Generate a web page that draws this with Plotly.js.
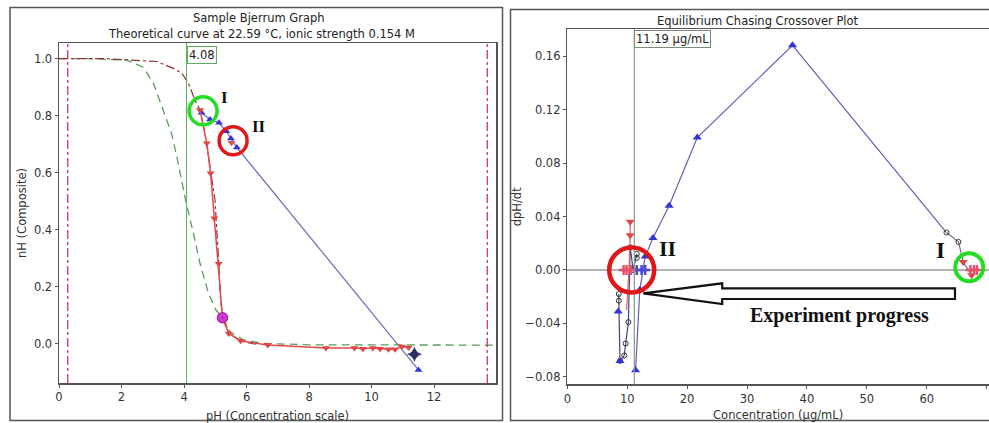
<!DOCTYPE html>
<html><head><meta charset="utf-8">
<script src="https://cdn.plot.ly/plotly-3.0.1.min.js"></script>
<style>html,body{margin:0;padding:0;background:#fff}#plot{width:989px;height:423px}</style>
</head><body><div id="plot"></div>
<script>
// ---------- LEFT PANEL DATA (Bjerrum) ----------
const leftTitle = "Sample Bjerrum Graph";
const leftSubtitle = "Theoretical curve at 22.59 °C, ionic strength 0.154 M";
const leftXTitle = "pH (Concentration scale)";
const leftYTitle = "nH (Composite)";
const crossoverPH = 4.08;
const limitPH = [0.28, 13.7];

const theoGreenPH = [0.0, 1.0, 2.16, 2.7, 3.02, 3.34, 3.6, 3.77, 3.93, 4.05, 4.3, 4.51, 4.78, 5.02, 5.24, 5.47, 5.9, 6.54, 8.0, 10.0, 12.0, 14.0];
const theoGreenNH = [1.0, 1.0, 0.995, 0.97, 0.914, 0.82, 0.738, 0.656, 0.563, 0.504, 0.387, 0.282, 0.177, 0.118, 0.091, 0.042, 0.013, 0.001, -0.004, -0.005, -0.005, -0.005];

const theoRedPH = [0.0, 1.5, 3.13, 3.66, 3.93, 4.14, 4.35, 4.51, 4.67, 4.83, 4.99, 5.1, 5.17, 5.24, 5.45, 5.85, 6.3];
const theoRedNH = [1.0, 1.0, 0.99, 0.966, 0.949, 0.914, 0.855, 0.82, 0.738, 0.621, 0.504, 0.305, 0.153, 0.091, 0.035, 0.008, -0.002];

const redPH = [4.51, 4.73, 4.85, 4.97, 5.11, 5.43, 5.81, 6.68, 8.54, 9.45, 9.72, 10.04, 10.27, 10.54, 10.75, 10.97, 11.18];
const redNH = [0.82, 0.703, 0.598, 0.44, 0.28, 0.036, 0.01, -0.005, -0.015, -0.015, -0.018, -0.015, -0.018, -0.02, -0.02, -0.01, -0.013];
const redExtraPH = [5.52];
const redExtraNH = [0.705];

const magentaPH = [5.23];
const magentaNH = [0.091];

const blueLeftPH = [4.56, 4.83, 5.12, 5.35, 5.5, 5.69, 11.5];
const blueLeftNH = [0.81, 0.787, 0.775, 0.745, 0.72, 0.688, -0.092];

const starPH = [11.37];
const starNH = [-0.037];

// ---------- RIGHT PANEL DATA (Crossover) ----------
const rightTitle = "Equilibrium Chasing Crossover Plot";
const rightXTitle = "Concentration (µg/mL)";
const rightYTitle = "dpH/dt";
const crossoverConc = 11.19;
const crossoverLabel = "11.19 µg/mL";

const blueMainX = [11.4, 12.1, 13.0, 14.3, 17.0, 21.7, 37.6, 63.3];
const blueMainY = [-0.075, -0.015, 0.010, 0.024, 0.048, 0.099, 0.168, 0.028];
const blueSideX = [8.5, 8.8];
const blueSideY = [-0.031, -0.068];

const circLeftX = [8.6, 8.6, 8.8, 9.5, 9.75, 10.2, 10.5, 11.0, 11.6, 11.6];
const circLeftY = [-0.018, -0.023, -0.068, -0.064, -0.055, -0.039, 0.017, 0.0, 0.012, 0.009];
const circRightX = [63.3, 65.3, 66.1, 67.5];
const circRightY = [0.028, 0.021, 0.006, -0.004];

const redTriRX = [10.5, 10.5, 66.1, 67.5];
const redTriRY = [0.036, 0.026, 0.006, -0.004];
const redLineRX = [10.5, 10.5, 10.3, 9.9];
const redLineRY = [0.036, 0.026, 0.0, -0.03];

const redCrossX = [9.4, 9.9, 10.6, 67.3, 67.9, 68.4];
const redCrossY = [0, 0, 0, 0, 0, 0];
const blueCrossX = [11.6, 12.4, 13.0];
const blueCrossY = [0, 0, 0];

// ---------- helpers ----------
const W = 989, H = 423;
const fx = p => p / W;
const fy = p => 1 - p / H;
const FONT = "DejaVu Sans, Verdana, sans-serif";
const SERIF = "Liberation Serif, Times New Roman, serif";

const L = {xaxis: 'x', yaxis: 'y'};
const R = {xaxis: 'x2', yaxis: 'y2'};

const redLinePH = redPH.slice(0, 5).concat(magentaPH, redPH.slice(5));
const redLineNH = redNH.slice(0, 5).concat(magentaNH, redNH.slice(5));

const traces = [
  Object.assign({x: theoGreenPH, y: theoGreenNH, mode: 'lines', line: {color: '#5c9c5c', width: 1.3, dash: '8px,5px'}}, L),
  Object.assign({x: theoRedPH, y: theoRedNH, mode: 'lines', line: {color: '#8e3434', width: 1.2, dash: 'dashdot'}}, L),
  Object.assign({x: blueLeftPH, y: blueLeftNH, mode: 'lines', line: {color: '#6c6cb4', width: 1.2}}, L),
  Object.assign({x: blueLeftPH, y: blueLeftNH, mode: 'markers', marker: {symbol: 'triangle-up', size: 7, color: '#3434d4'}}, L),
  Object.assign({x: redLinePH, y: redLineNH, mode: 'lines', line: {color: '#e04a4a', width: 1.5}}, L),
  Object.assign({x: redPH, y: redNH, mode: 'markers', marker: {symbol: 'triangle-down', size: 7, color: '#e04444'}}, L),
  Object.assign({x: redExtraPH, y: redExtraNH, mode: 'markers', marker: {symbol: 'triangle-down', size: 7, color: '#d85050'}}, L),
  Object.assign({x: magentaPH, y: magentaNH, mode: 'markers', marker: {symbol: 'circle-dot', size: 10, color: '#d040d0', line: {color: '#b020b0', width: 1.5}}}, L),
  Object.assign({x: starPH, y: starNH, mode: 'markers', marker: {symbol: 'star-diamond', size: 11, color: '#2e2e66'}}, L),

  Object.assign({x: circLeftX, y: circLeftY, mode: 'lines+markers', line: {color: '#454575', width: 1.2}, marker: {symbol: 'circle-open', size: 5, color: '#333', line: {width: 1}}}, R),
  Object.assign({x: blueMainX, y: blueMainY, mode: 'lines', line: {color: '#6060b4', width: 1.2}}, R),
  Object.assign({x: blueMainX.slice(0, -1), y: blueMainY.slice(0, -1), mode: 'markers', marker: {symbol: 'triangle-up', size: 8, color: '#3434d4'}}, R),
  Object.assign({x: blueSideX, y: blueSideY, mode: 'markers', marker: {symbol: 'triangle-up', size: 8, color: '#3434d4'}}, R),
  Object.assign({x: circRightX, y: circRightY, mode: 'lines', line: {color: '#707090', width: 1.2}}, R),
  Object.assign({x: circRightX.slice(0, 2), y: circRightY.slice(0, 2), mode: 'markers', marker: {symbol: 'circle-open', size: 5, color: '#333', line: {width: 1}}}, R),
  Object.assign({x: redLineRX, y: redLineRY, mode: 'lines', line: {color: '#e06070', width: 1.2}}, R),
  Object.assign({x: redTriRX, y: redTriRY, mode: 'markers', marker: {symbol: 'triangle-down', size: 8, color: '#e04848'}}, R),
  Object.assign({x: blueCrossX, y: blueCrossY, mode: 'markers', marker: {symbol: 'cross-thin-open', size: 7, color: '#4a4ad6', line: {width: 2.5, color: '#4a4ad6'}}}, R),
  Object.assign({x: redCrossX, y: redCrossY, mode: 'markers', marker: {symbol: 'cross-thin-open', size: 7, color: '#e8506a', line: {width: 2.5, color: '#e8506a'}}}, R)
];

const tickFont = {family: FONT, size: 11.5, color: '#333'};
const titleFont = {family: FONT, size: 11.5, color: '#333'};
const axCommon = {showgrid: false, showline: true, mirror: true, linecolor: '#555', linewidth: 1.5,
  ticks: 'outside', ticklen: 3, tickcolor: '#555', tickfont: tickFont, automargin: false, fixedrange: true};

function circle(xr, yr, cx, cy, r, color, w) {
  return {type: 'circle', xref: xr, yref: yr, xsizemode: 'pixel', ysizemode: 'pixel',
    xanchor: cx, yanchor: cy, x0: -r, x1: r, y0: -r, y1: r, line: {color: color, width: w}, layer: 'above'};
}

const shapes = [
  // panel frames
  {type: 'rect', xref: 'paper', yref: 'paper', x0: fx(10), x1: fx(502.5), y0: fy(420.5), y1: fy(7.5), line: {color: '#555', width: 1.5}},
  {type: 'rect', xref: 'paper', yref: 'paper', x0: fx(510.5), x1: fx(992), y0: fy(420.5), y1: fy(9.5), line: {color: '#555', width: 1.5}},
  // left limits & crossover
  ...limitPH.map(v => ({type: 'line', xref: 'x', yref: 'y domain', x0: v, x1: v, y0: 0, y1: 1, line: {color: '#c8284a', width: 1.2, dash: 'dashdot'}})),
  {type: 'line', xref: 'x', yref: 'y domain', x0: crossoverPH, x1: crossoverPH, y0: 0, y1: 1, line: {color: '#5fae5f', width: 1}},
  // right crossover
  {type: 'line', xref: 'x2', yref: 'y2 domain', x0: crossoverConc, x1: crossoverConc, y0: 0, y1: 1, line: {color: '#8a9a8a', width: 1.2}},
  // circles
  circle('x', 'y', 4.61, 0.817, 14, '#22dd22', 3.5),
  circle('x', 'y', 5.57, 0.712, 14, '#e01818', 3.5),
  circle('x2', 'y2', 10.75, 0.0, 22.5, '#e01818', 4.5),
  circle('x2', 'y2', 67.1, 0.002, 14, '#22dd22', 4),
  // hollow arrow
  {type: 'path', xref: 'paper', yref: 'paper', layer: 'above', fillcolor: '#fff', line: {color: '#111', width: 2.2},
    path: 'M' + [[643.3, 293.3], [722.2, 283.3], [722.2, 288.3], [955, 288.3], [955, 299], [722.2, 299], [722.2, 304]]
      .map(p => fx(p[0]) + ',' + fy(p[1])).join(' L') + ' Z'}
];

function txt(text, x, y, font) {
  return {text: text, xref: 'paper', yref: 'paper', x: fx(x), y: fy(y), showarrow: false, xanchor: 'center', yanchor: 'middle', font: font};
}
const plainFont = {family: FONT, size: 11.5, color: '#222'};

const annotations = [
  txt(leftTitle, 259, 18.3, plainFont),
  txt(leftSubtitle, 261, 34.3, plainFont),
  txt(rightTitle, 758.3, 20.7, plainFont),
  {text: crossoverPH.toFixed(2), xref: 'x', yref: 'y domain', x: crossoverPH, y: 1, xanchor: 'left', yanchor: 'top', yshift: -3, showarrow: false,
    bordercolor: '#5fae5f', borderwidth: 1, borderpad: 1, bgcolor: '#fff', font: plainFont},
  {text: crossoverLabel, xref: 'x2', yref: 'y2 domain', x: crossoverConc, y: 1, xanchor: 'left', yanchor: 'top', yshift: -1, showarrow: false,
    bordercolor: '#7a8a7a', borderwidth: 1, borderpad: 1, bgcolor: '#fff', font: plainFont},
  txt('<b>I</b>', 224, 97, {family: SERIF, size: 17, color: '#111'}),
  txt('<b>II</b>', 258.7, 126, {family: SERIF, size: 17, color: '#111'}),
  txt('<b>II</b>', 667.5, 248.5, {family: SERIF, size: 22, color: '#111'}),
  txt('<b>I</b>', 940.8, 250.5, {family: SERIF, size: 23, color: '#111'}),
  txt('<b>Experiment progress</b>', 839.3, 315.5, {family: SERIF, size: 20, color: '#111'})
];

const layout = {
  width: W, height: H, margin: {l: 0, r: 0, t: 0, b: 0}, paper_bgcolor: '#fff', plot_bgcolor: '#fff',
  showlegend: false,
  xaxis: Object.assign({}, axCommon, {domain: [fx(59), fx(496)], range: [0, 13.98], tick0: 0, dtick: 2, zeroline: false, anchor: 'y',
    title: {text: leftXTitle, font: titleFont, standoff: 8}}),
  yaxis: Object.assign({}, axCommon, {domain: [fy(383), fy(43)], range: [-0.138, 1.055], tick0: 0, dtick: 0.2, tickformat: '.1f', zeroline: false, anchor: 'x',
    title: {text: leftYTitle, font: titleFont, standoff: 5}}),
  xaxis2: Object.assign({}, axCommon, {domain: [fx(567.3), 1], range: [0, 70.4], tick0: 0, dtick: 10, zeroline: false, anchor: 'y2',
    title: {text: rightXTitle, font: titleFont, standoff: 6}}),
  yaxis2: Object.assign({}, axCommon, {domain: [fy(384.3), fy(29.3)], range: [-0.0855, 0.18], tick0: 0, dtick: 0.04, tickformat: '.2f',
    zeroline: true, zerolinecolor: '#b4b4b4', zerolinewidth: 1.5, anchor: 'x2',
    title: {text: rightYTitle, font: titleFont, standoff: 1}}),
  shapes: shapes,
  annotations: annotations
};

Plotly.newPlot('plot', traces, layout, {staticPlot: true, displayModeBar: false});
</script>
</body></html>
